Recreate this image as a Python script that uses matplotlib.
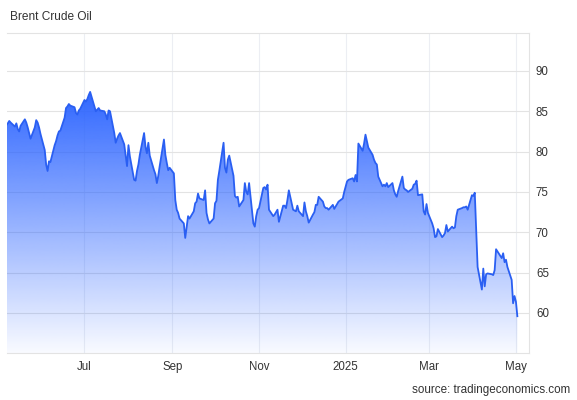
import matplotlib
matplotlib.use("Agg")
import matplotlib.pyplot as plt
import matplotlib.dates as mdates
from matplotlib.patches import PathPatch
import numpy as np
import pandas as pd

plt.rcParams["font.family"] = ["Liberation Sans", "DejaVu Sans"]

# ---- data (Brent crude, USD/bbl, daily closes) ----
may24 = [83.3, 83.5, 83.8, 83.6, 83.1, 83.5, 82.8, 82.5, 83.2, 84.0, 83.6, 83.0,
         82.3, 81.6, 83.0, 83.9, 83.6, 83.0, 82.2]
jun24 = [80.2, 78.4, 77.6, 78.8, 78.7, 80.8, 81.3, 82.0, 82.5, 82.6, 84.2, 85.4,
         85.6, 85.9, 85.7, 85.5, 84.8, 84.6, 85.1, 85.3]
jul24 = [86.4, 86.2, 86.5, 87.0, 87.4, 85.6, 85.0, 85.2, 85.4, 85.1, 85.0, 84.6,
         84.0, 85.1, 85.0, 82.3, 81.1, 81.6, 82.0, 82.3, 80.9, 79.5, 78.2]
aug24 = [80.8, 79.4, 76.5, 76.4, 77.6, 78.4, 79.6, 82.3, 80.6, 79.8, 81.1, 79.5,
         77.7, 77.2, 76.1, 77.0, 78.2, 81.5, 79.6, 78.6, 77.7, 78.0]
sep24 = [77.3, 74.0, 72.8, 72.4, 71.7, 71.1, 69.3, 70.6, 72.0, 71.7, 72.6, 73.6,
         73.8, 74.8, 74.2, 74.0, 75.2, 72.4, 71.6, 71.1, 71.7]
oct24 = [73.6, 73.9, 76.5, 77.6, 81.1, 78.0, 77.4, 79.0, 79.5, 77.0, 74.5, 74.3,
         74.4, 73.2, 74.0, 76.1, 75.0, 74.7, 76.1, 71.1, 70.7, 72.0, 72.8]
nov24 = [73.0, 75.5, 75.6, 75.3, 75.9, 72.8, 72.0, 72.2, 72.5, 72.8, 71.3, 73.3,
         73.3, 73.0, 74.0, 75.2, 72.8, 72.7, 72.6, 73.3, 72.6]
dec24 = [72.0, 73.7, 72.6, 72.0, 71.2, 72.2, 72.5, 73.4, 73.4, 74.4, 73.8, 73.2,
         73.0, 73.0, 72.8, 73.4, 72.9, 73.8, 74.2, 75.0]
jan25 = [76.3, 76.5, 76.7, 76.3, 77.1, 76.3, 81.0, 80.1, 81.0, 82.1, 81.3, 80.5,
         79.6, 79.0, 78.6, 78.4, 76.9, 75.7, 75.9, 75.7, 76.1, 75.6]
feb25 = [76.1, 75.2, 74.7, 74.4, 75.1, 76.9, 75.5, 75.3, 75.2, 75.0, 75.4, 75.9,
         76.0, 76.4, 74.6, 74.7, 72.6, 72.2, 73.5, 72.4]
mar25 = [71.1, 70.5, 69.4, 69.5, 70.4, 69.4, 69.6, 69.9, 70.9, 70.1, 70.7, 70.5,
         70.6, 72.0, 72.8, 73.0, 73.1, 73.1, 73.2, 72.8, 74.6]
apr25 = [74.5, 74.9, 70.2, 65.7, 62.9, 65.5, 63.3, 64.8, 64.9, 64.8, 64.7, 65.3,
         67.9, 66.8, 67.4, 66.3, 66.6, 65.7, 64.1, 61.2, 62.1]
may25 = [61.4, 59.6]

month_spans = [("2024-05-07", "2024-05-31", may24), ("2024-06-01", "2024-06-30", jun24),
               ("2024-07-01", "2024-07-31", jul24), ("2024-08-01", "2024-08-31", aug24),
               ("2024-09-01", "2024-09-30", sep24), ("2024-10-01", "2024-10-31", oct24),
               ("2024-11-01", "2024-11-30", nov24), ("2024-12-01", "2024-12-31", dec24),
               ("2025-01-01", "2025-01-31", jan25), ("2025-02-01", "2025-02-28", feb25),
               ("2025-03-01", "2025-03-31", mar25), ("2025-04-01", "2025-04-30", apr25),
               ("2025-05-01", "2025-05-02", may25)]
holidays = pd.to_datetime(["2024-12-25", "2024-12-26", "2025-01-01", "2025-04-18"])

tick_dates = ["2024-07-01", "2024-09-01", "2024-11-01", "2025-01-01", "2025-03-01", "2025-05-01"]
tick_labels = ["Jul", "Sep", "Nov", "2025", "Mar", "May"]
y_ticks = [60, 65, 70, 75, 80, 85, 90]

dates, values = [], []
for start, end, vals in month_spans:
    d = pd.bdate_range(start, end)
    d = d[~d.isin(holidays)]
    n = min(len(d), len(vals))
    dates.extend(d[:n])
    values.extend(vals[:n])
dates = pd.DatetimeIndex(dates)
values = np.array(values)

# ---- figure ----
W, H = 577, 400
fig = plt.figure(figsize=(W / 100, H / 100), dpi=100)
ax = fig.add_axes([7 / W, 47 / H, (529 - 7) / W, (353 - 33) / H])

YMIN, YMAX = 55.04, 94.7
XMIN = mdates.date2num(pd.Timestamp("2024-05-07 10:00"))
XMAX = mdates.date2num(pd.Timestamp("2025-05-10 05:00"))

blue = np.array([41, 98, 255]) / 255.0
xnum = mdates.date2num(dates)

# gradient fill under the line
poly = ax.fill_between(xnum, values, YMIN, color="none", lw=0)
clip = PathPatch(poly.get_paths()[0], transform=ax.transData, facecolor="none", edgecolor="none")
ax.add_patch(clip)
ymax_data = values.max()
grad = np.zeros((256, 1, 4))
grad[:, 0, :3] = blue
grad[:, 0, 3] = np.linspace(0.03, 0.97, 256)
img = ax.imshow(grad, extent=[xnum[0], xnum[-1], YMIN, ymax_data], aspect="auto",
                origin="lower", zorder=1, interpolation="bicubic")
img.set_clip_path(clip)

ax.plot(xnum, values, color="#2a5ff2", lw=1.3, zorder=4, solid_joinstyle="round")

ax.set_xlim(XMIN, XMAX)
ax.set_ylim(YMIN, YMAX)

ax.set_xticks(mdates.date2num(pd.to_datetime(tick_dates)))
ax.set_xticklabels(tick_labels)
ax.set_yticks(y_ticks)
ax.yaxis.tick_right()
ax.tick_params(axis="both", length=0, labelsize=8.3, labelcolor="#333333")
ax.tick_params(axis="x", pad=6)
ax.tick_params(axis="y", pad=5)

ax.set_axisbelow(True)
ax.grid(axis="y", color="#e3e3e3", lw=0.8, zorder=0)
ax.grid(axis="x", color="#eceef3", lw=0.8, zorder=0)

for side in ["top", "bottom", "right"]:
    ax.spines[side].set_color("#e3e3e3")
    ax.spines[side].set_linewidth(0.8)
ax.spines["left"].set_visible(False)

fig.text(10 / W, 1 - 17 / H, "Brent Crude Oil", ha="left", va="center",
         fontsize=8.6, color="#333333")
fig.text(570 / W, 1 - 390 / H, "source: tradingeconomics.com", ha="right", va="center",
         fontsize=8.4, color="#333333")

fig.savefig("out.png", dpi=100)
